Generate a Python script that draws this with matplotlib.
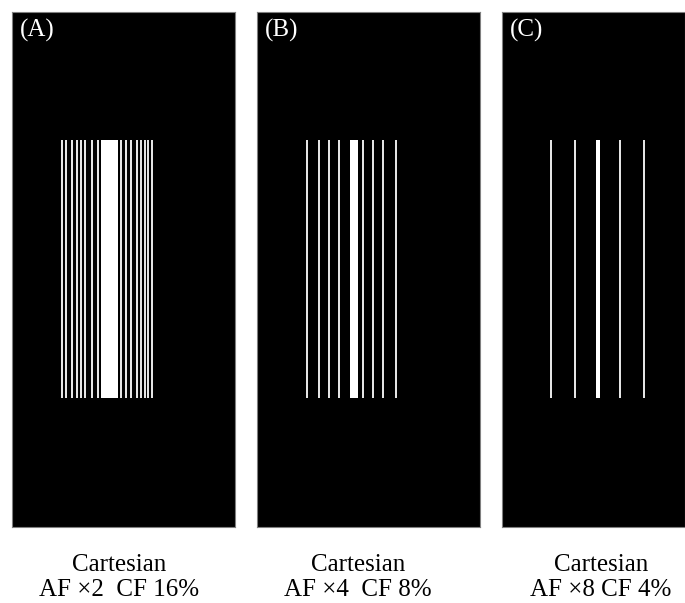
import matplotlib
matplotlib.use("Agg")
import matplotlib.pyplot as plt

# ---- data: sampled k-space line positions (panel units from panel left edge) ----
panel_labels = ["(A)", "(B)", "(C)"]
captions_top = ["Cartesian", "Cartesian", "Cartesian"]
captions_bottom = ["AF \u00d72  CF 16%", "AF \u00d74  CF 8%", "AF \u00d78 CF 4%"]

lines_A = [50, 54, 60, 65, 69, 73, 80, 86, 109, 114, 119, 125, 129, 133, 136, 140]
center_A = 97.5
center_width_A = 17

lines_B = [50, 62, 72, 82, 106, 116, 126, 139]
center_B = 97
center_width_B = 8

lines_C = [49, 73, 118, 142]
center_C = 96
center_width_C = 4.5

line_width = 2.4
line_bottom = 129   # panel units from bottom (panel height 515)
line_height = 258

W, H = 685, 603
fig = plt.figure(figsize=(W / 100, H / 100), dpi=100)
fig.patch.set_facecolor("white")

panel_left_px = [12, 257, 502]
panel_w, panel_h = 223, 515
panel_top_px = 12

all_lines = [lines_A, lines_B, lines_C]
centers = [center_A, center_B, center_C]
cwidths = [center_width_A, center_width_B, center_width_C]

for i in range(3):
    left = panel_left_px[i]
    w = min(panel_w, W - left)
    ax = fig.add_axes([left / W, (H - panel_top_px - panel_h) / H, w / W, panel_h / H])
    ax.set_facecolor("black")
    ax.set_xlim(0, w)
    ax.set_ylim(0, panel_h)
    ax.bar(all_lines[i], [line_height] * len(all_lines[i]), width=line_width,
           bottom=line_bottom, color="#e4e4e4", edgecolor="none", align="center")
    ax.bar([centers[i]], [line_height], width=cwidths[i], bottom=line_bottom,
           color="white", edgecolor="none", align="center")
    ax.set_xticks([])
    ax.set_yticks([])
    for s in ax.spines.values():
        s.set_color("#808080")
        s.set_linewidth(0.8)
    ax.text(8, panel_h - 7, panel_labels[i], color="white", fontsize=18,
            family="Liberation Serif", ha="left", va="top")

cap_centers = [119, 358, 601]
for i in range(3):
    fig.text(cap_centers[i] / W, 1 - 571 / H, captions_top[i], ha="center",
             va="baseline", fontsize=18, family="Liberation Serif")
    fig.text(cap_centers[i] / W, 1 - 596 / H, captions_bottom[i], ha="center",
             va="baseline", fontsize=18, family="Liberation Serif")

fig.savefig("out.png", dpi=100, facecolor="white")
